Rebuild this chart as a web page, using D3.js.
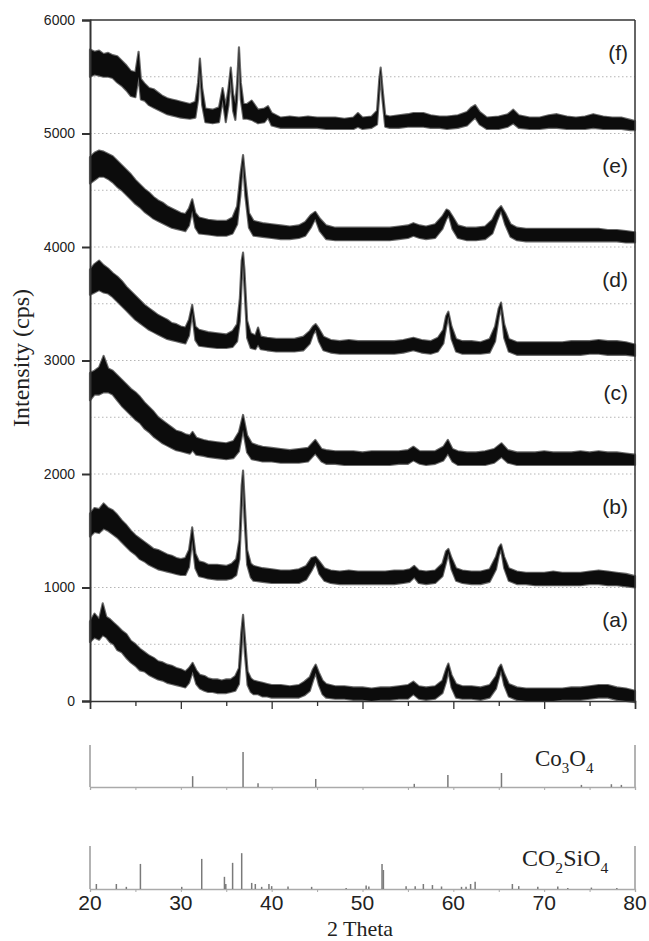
<!DOCTYPE html>
<html>
<head>
<meta charset="utf-8">
<script src="https://cdn.jsdelivr.net/npm/d3@7"></script>
<style>
  body { margin: 0; background: #fff; }
  svg text { fill: #222; }
</style>
</head>
<body>
<div id="chart"></div>
<script>
// ---------- data (2 theta, low edge, high edge of the noisy trace, cps) ----------
const patternA = [[20,520,700],[20.5,560,770],[21,540,720],[21.4,580,860],[21.8,560,740],[22.2,520,720],[22.6,500,690],[23,450,660],[23.5,430,620],[24,380,590],[24.5,340,530],[25,310,500],[25.5,270,460],[26,260,430],[26.5,230,400],[27,210,380],[27.5,190,350],[28,180,340],[28.5,160,320],[29,150,310],[29.5,140,290],[30,130,280],[30.5,120,260],[30.9,160,290],[31.3,260,335],[31.7,150,270],[32.1,110,230],[32.6,90,220],[33,80,200],[33.5,80,190],[34,70,190],[34.5,70,180],[35,70,190],[35.5,80,190],[36,90,220],[36.4,150,290],[36.65,420,600],[36.85,690,760],[37.05,420,560],[37.35,140,260],[37.7,80,200],[38,60,180],[38.5,60,170],[39,40,160],[39.5,40,150],[40,30,140],[41,30,140],[42,30,130],[43,30,140],[43.6,50,170],[44.2,90,210],[44.55,180,280],[44.85,250,320],[45.2,140,250],[45.6,60,180],[46,30,150],[47,20,130],[48,20,130],[49,10,120],[50,10,120],[51,0,110],[52,10,120],[53,10,120],[54,20,130],[55,20,140],[55.6,60,170],[56.2,20,130],[57,10,120],[58,20,130],[58.8,70,180],[59.2,170,280],[59.45,270,330],[59.8,120,230],[60.3,30,150],[61,20,130],[62,20,130],[63,10,120],[64,30,140],[64.7,110,220],[65,200,290],[65.25,270,320],[65.6,140,240],[66.1,40,150],[67,10,120],[68,0,110],[69,0,110],[70,0,110],[71,0,110],[72,10,110],[73,10,120],[74,10,120],[75,20,130],[76,30,140],[77,30,140],[78,10,120],[79,0,110],[80,-10,90]];

const patternB = [[20,1450,1650],[20.5,1490,1700],[21,1480,1690],[21.5,1520,1740],[22,1500,1700],[22.5,1470,1680],[23,1440,1640],[23.5,1400,1590],[24,1360,1550],[24.5,1320,1500],[25,1290,1460],[25.5,1250,1430],[26,1230,1400],[26.5,1200,1370],[27,1180,1340],[27.5,1160,1330],[28,1150,1310],[28.5,1140,1290],[29,1130,1280],[29.5,1120,1260],[30,1110,1250],[30.5,1110,1260],[30.9,1180,1330],[31.25,1420,1530],[31.6,1170,1300],[32,1100,1230],[32.5,1090,1220],[33,1080,1200],[34,1070,1200],[35,1070,1190],[35.6,1080,1210],[36.1,1110,1250],[36.45,1250,1420],[36.7,1700,1900],[36.85,1970,2030],[37,1620,1800],[37.3,1200,1330],[37.7,1090,1210],[38,1060,1190],[39,1050,1170],[40,1040,1160],[41,1040,1150],[42,1040,1150],[43,1040,1160],[43.8,1070,1190],[44.4,1150,1260],[44.85,1220,1270],[45.25,1120,1230],[45.8,1060,1170],[46.5,1040,1150],[47.5,1030,1140],[48.5,1030,1150],[49.5,1030,1140],[50.5,1030,1140],[51.5,1030,1140],[52.5,1030,1140],[53.5,1030,1150],[54.5,1040,1150],[55.2,1050,1160],[55.7,1090,1190],[56.2,1040,1150],[57,1030,1140],[58,1040,1150],[58.8,1100,1210],[59.2,1220,1320],[59.45,1300,1340],[59.8,1160,1260],[60.3,1060,1170],[61,1040,1150],[62,1030,1140],[63,1030,1140],[64,1050,1160],[64.7,1160,1270],[65,1280,1350],[65.25,1340,1380],[65.6,1170,1270],[66.1,1060,1170],[67,1030,1140],[68,1030,1130],[69,1020,1130],[70,1020,1130],[71,1020,1140],[72,1020,1130],[73,1020,1130],[74,1020,1130],[75,1030,1140],[76,1030,1150],[77,1020,1140],[78,1020,1130],[79,1010,1120],[80,1000,1100]];

const patternC = [[20,2650,2890],[20.5,2700,2910],[21,2700,2940],[21.5,2720,3040],[22,2720,2930],[22.5,2700,2910],[23,2650,2870],[23.5,2600,2830],[24,2560,2790],[24.5,2520,2750],[25,2480,2720],[25.5,2450,2680],[26,2400,2630],[26.5,2370,2590],[27,2330,2550],[27.5,2300,2500],[28,2270,2470],[28.5,2250,2440],[29,2230,2410],[29.5,2210,2380],[30,2200,2370],[30.5,2190,2350],[31,2180,2340],[31.3,2210,2370],[31.7,2170,2320],[32.5,2160,2300],[33,2150,2290],[34,2140,2280],[35,2130,2270],[35.8,2140,2290],[36.4,2200,2370],[36.85,2390,2520],[37.3,2190,2340],[37.8,2130,2270],[38.5,2120,2250],[39,2110,2240],[40,2110,2230],[41,2100,2220],[42,2100,2210],[43,2100,2220],[44,2110,2230],[44.8,2180,2300],[45.5,2110,2220],[46,2090,2210],[47,2090,2200],[48,2080,2200],[49,2080,2200],[50,2080,2190],[51,2080,2200],[52,2080,2200],[53,2080,2200],[54,2090,2200],[55,2090,2210],[55.6,2120,2240],[56.3,2090,2200],[57,2080,2200],[58,2090,2200],[58.9,2120,2240],[59.4,2180,2300],[59.9,2110,2220],[60.5,2080,2200],[61.5,2080,2190],[62.5,2080,2190],[63.5,2080,2200],[64.5,2100,2220],[65.3,2150,2270],[66,2100,2210],[67,2080,2190],[68,2080,2190],[69,2080,2190],[70,2080,2200],[71,2080,2190],[72,2080,2190],[73,2080,2190],[74,2080,2200],[75,2080,2190],[76,2080,2200],[77,2080,2190],[78,2080,2190],[79,2080,2180],[80,2080,2170]];

const patternD = [[20,3580,3800],[20.5,3600,3850],[21,3620,3880],[21.5,3600,3840],[22,3590,3810],[22.5,3560,3770],[23,3520,3740],[23.5,3480,3700],[24,3440,3650],[24.5,3400,3610],[25,3360,3570],[25.5,3330,3530],[26,3300,3490],[26.5,3270,3460],[27,3250,3430],[27.5,3230,3400],[28,3210,3380],[28.5,3190,3360],[29,3180,3330],[29.5,3170,3320],[30,3160,3300],[30.5,3150,3290],[30.9,3220,3360],[31.25,3420,3490],[31.6,3180,3300],[32,3130,3270],[33,3120,3250],[34,3110,3240],[35,3110,3230],[35.7,3120,3260],[36.2,3170,3320],[36.5,3350,3550],[36.7,3700,3880],[36.85,3890,3950],[37,3650,3800],[37.3,3200,3350],[37.7,3110,3240],[38.2,3100,3220],[38.5,3140,3290],[38.8,3100,3210],[39.5,3090,3200],[40.5,3080,3190],[41.5,3080,3190],[42.5,3080,3190],[43.5,3090,3210],[44.2,3150,3260],[44.55,3230,3300],[44.85,3270,3320],[45.2,3170,3280],[45.7,3090,3210],[46.5,3070,3180],[47.5,3060,3170],[48.5,3060,3180],[49.5,3060,3170],[50.5,3060,3170],[51.5,3060,3170],[52.5,3060,3170],[53.5,3060,3170],[54.5,3070,3180],[55.6,3090,3200],[56.5,3070,3180],[57.5,3060,3170],[58.3,3080,3200],[58.9,3150,3270],[59.2,3290,3390],[59.45,3390,3430],[59.8,3190,3300],[60.3,3080,3190],[61,3060,3170],[62,3060,3170],[63,3060,3160],[64,3070,3190],[64.6,3170,3300],[65,3380,3460],[65.25,3470,3510],[65.6,3200,3320],[66.1,3080,3190],[67,3050,3160],[68,3050,3160],[69,3050,3160],[70,3050,3160],[71,3050,3160],[72,3050,3160],[73,3050,3170],[74,3050,3170],[75,3060,3170],[76,3060,3180],[77,3050,3170],[78,3050,3170],[79,3050,3160],[80,3040,3140]];

const patternE = [[20,4560,4790],[20.5,4590,4830],[21,4620,4850],[21.5,4620,4840],[22,4600,4820],[22.5,4570,4800],[23,4530,4760],[23.5,4500,4720],[24,4460,4680],[24.5,4420,4640],[25,4380,4590],[25.5,4350,4550],[26,4310,4510],[26.5,4280,4480],[27,4250,4440],[27.5,4230,4410],[28,4210,4390],[28.5,4190,4360],[29,4170,4340],[29.5,4160,4320],[30,4150,4300],[30.5,4140,4290],[30.9,4190,4340],[31.25,4320,4420],[31.6,4170,4300],[32,4120,4260],[33,4110,4240],[34,4100,4230],[35,4100,4230],[35.7,4120,4260],[36.2,4200,4360],[36.55,4450,4630],[36.85,4750,4810],[37.1,4450,4600],[37.5,4170,4300],[38,4100,4230],[39,4090,4210],[40,4080,4200],[41,4070,4190],[42,4070,4180],[43,4080,4190],[43.7,4100,4220],[44.3,4170,4280],[44.8,4250,4310],[45.3,4140,4250],[46,4070,4190],[47,4060,4170],[48,4060,4170],[49,4060,4170],[50,4060,4170],[51,4060,4170],[52,4060,4170],[53,4060,4170],[54,4070,4180],[55,4080,4190],[55.6,4100,4210],[56.3,4080,4190],[57,4070,4180],[58,4080,4200],[58.8,4160,4270],[59.25,4250,4330],[59.5,4280,4320],[59.9,4160,4270],[60.5,4080,4190],[61.5,4060,4170],[62.5,4060,4170],[63.5,4070,4180],[64.3,4120,4240],[64.8,4230,4320],[65.25,4320,4360],[65.7,4200,4300],[66.3,4090,4200],[67,4060,4170],[68,4050,4160],[69,4050,4160],[70,4050,4160],[71,4050,4160],[72,4050,4160],[73,4050,4160],[74,4050,4160],[75,4050,4160],[76,4050,4160],[77,4050,4150],[78,4050,4150],[79,4040,4140],[80,4040,4130]];

const patternF = [[20,5500,5740],[20.5,5520,5720],[21,5510,5730],[21.5,5500,5700],[22,5500,5710],[22.5,5490,5690],[23,5450,5680],[23.5,5420,5640],[24,5380,5600],[24.5,5330,5550],[25,5320,5540],[25.35,5500,5720],[25.6,5300,5480],[26,5290,5440],[26.5,5250,5400],[27,5230,5390],[27.5,5210,5360],[28,5190,5330],[28.5,5170,5310],[29,5160,5300],[29.5,5150,5290],[30,5140,5280],[31,5130,5260],[31.6,5140,5280],[31.9,5300,5450],[32.1,5580,5660],[32.35,5250,5400],[32.7,5100,5220],[33.5,5090,5210],[34.2,5100,5230],[34.6,5300,5400],[34.95,5100,5240],[35.25,5250,5400],[35.5,5500,5580],[35.75,5200,5350],[36,5120,5260],[36.2,5300,5450],[36.4,5700,5760],[36.6,5300,5450],[36.9,5130,5260],[37.3,5130,5260],[37.8,5120,5290],[38.5,5090,5210],[39.2,5100,5220],[39.6,5140,5240],[40,5070,5180],[41,5050,5140],[42,5050,5150],[43,5050,5140],[44,5050,5150],[45,5050,5140],[46,5040,5140],[47,5040,5140],[48,5040,5130],[49,5040,5140],[49.5,5060,5180],[50,5040,5140],[51,5050,5150],[51.6,5080,5200],[51.85,5350,5480],[52,5540,5580],[52.2,5300,5400],[52.5,5060,5160],[53,5050,5150],[54,5050,5160],[55,5060,5170],[55.6,5060,5180],[56.7,5060,5180],[57.5,5050,5160],[58.5,5050,5150],[59.3,5040,5150],[60.5,5050,5160],[61.5,5070,5190],[62,5110,5230],[62.4,5140,5250],[62.9,5080,5190],[63.7,5040,5140],[65,5040,5150],[66,5060,5170],[66.6,5090,5210],[67.2,5050,5160],[68.4,5040,5140],[69.5,5040,5140],[70.5,5050,5160],[71.4,5050,5170],[72.5,5040,5150],[73.5,5040,5140],[74.5,5040,5150],[75.4,5050,5170],[76.5,5040,5150],[77.5,5040,5140],[78.5,5040,5140],[79.5,5030,5120],[80,5030,5110]];

const patterns = [patternA, patternB, patternC, patternD, patternE, patternF];
const patternLabels = ["(a)", "(b)", "(c)", "(d)", "(e)", "(f)"];
const patternOffsets = [0, 1000, 2000, 3000, 4000, 5000];

// reference lines (2 theta, relative intensity)
const co3o4Pos = [31.3, 36.85, 38.5, 44.85, 55.7, 59.4, 65.3, 74.1, 77.4, 78.5];
const co3o4Int = [31, 100, 11, 23, 9, 34, 40, 6, 8, 6];
const co2sio4Pos = [20.7, 22.9, 24.0, 25.55, 30.1, 32.3, 34.8, 34.95, 35.7, 36.7, 37.8, 38.2, 38.9, 39.7, 40.0, 41.8, 44.4, 48.2, 50.4, 50.7, 52.15, 52.3, 54.8, 55.8, 56.7, 57.7, 58.7, 60.9, 61.4, 61.9, 62.4, 66.5, 67.2, 69.3, 71.5, 72.6, 75.2, 78.0];
const co2sio4Int = [14, 14, 6, 70, 6, 84, 34, 14, 73, 100, 17, 14, 6, 14, 8, 7, 6, 3, 10, 7, 70, 53, 8, 8, 14, 11, 7, 6, 6, 14, 20, 14, 8, 6, 7, 3, 4, 3];

const yTicks = [0, 1000, 2000, 3000, 4000, 5000, 6000];
const gridValues = [500, 1000, 1500, 2000, 2500, 3000, 3500, 4000, 4500, 5000, 5500];
const xTicks = [20, 30, 40, 50, 60, 70, 80];
const xMinorTicks = [25, 35, 45, 55, 65, 75];

// ---------- layout ----------
const W = 649, H = 941;
const plotLeft = 90, plotRight = 635, plotTop = 20, plotBottom = 701;
const sans = "'Liberation Sans', Arial, sans-serif";
const serif = "'Liberation Serif', 'Times New Roman', serif";

const svg = d3.select("#chart").append("svg")
  .attr("width", W).attr("height", H);

const x = d3.scaleLinear().domain([20, 80]).range([plotLeft, plotRight]);
const y = d3.scaleLinear().domain([0, 6000]).range([plotBottom, plotTop]);

// grid (dotted)
svg.append("g").selectAll("line")
  .data(gridValues)
  .join("line")
  .attr("x1", plotLeft).attr("x2", plotRight)
  .attr("y1", d => y(d)).attr("y2", d => y(d))
  .attr("stroke", "#b5b5b5").attr("stroke-width", 1)
  .attr("stroke-dasharray", "1.5,2.5");

// traces: grey fringe underneath, black core on top
const band = d3.area()
  .x(d => x(d[0]))
  .y0(d => y(d[1]))
  .y1(d => y(d[2]));

const traces = svg.append("g");
traces.selectAll("path.fringe")
  .data(patterns)
  .join("path")
  .attr("class", "fringe")
  .attr("d", band)
  .attr("fill", "none")
  .attr("stroke", "#6a6a6a")
  .attr("stroke-width", 2.2)
  .attr("stroke-linejoin", "round");
traces.selectAll("path.core")
  .data(patterns)
  .join("path")
  .attr("class", "core")
  .attr("d", band)
  .attr("fill", "#0c0c0c");

// labels (a)-(f)
svg.append("g").selectAll("text")
  .data(patternLabels)
  .join("text")
  .attr("x", 628)
  .attr("y", (d, i) => y(patternOffsets[i] + 650))
  .attr("text-anchor", "end")
  .attr("font-family", sans)
  .attr("font-size", 21)
  .text(d => d);

// frame
const axisColor = "#333";
svg.append("line").attr("x1", plotLeft).attr("x2", plotRight).attr("y1", plotTop).attr("y2", plotTop)
  .attr("stroke", axisColor).attr("stroke-width", 1.5);
svg.append("line").attr("x1", plotRight).attr("x2", plotRight).attr("y1", plotTop).attr("y2", plotBottom)
  .attr("stroke", axisColor).attr("stroke-width", 1.5);

// y axis
const yAxis = svg.append("g")
  .attr("transform", `translate(${plotLeft},0)`)
  .call(d3.axisLeft(y).tickValues(yTicks).tickSize(8).tickPadding(7).tickFormat(d3.format("d")));
yAxis.select(".domain").attr("stroke", axisColor).attr("stroke-width", 2);
yAxis.selectAll(".tick line").attr("stroke", axisColor).attr("stroke-width", 2);
yAxis.selectAll(".tick text").attr("font-family", sans).attr("font-size", 14).attr("fill", "#333");

// main x axis (ticks only)
const xMain = svg.append("g")
  .attr("transform", `translate(0,${plotBottom})`)
  .call(d3.axisBottom(x).tickValues(xTicks).tickSize(8).tickFormat(""));
xMain.select(".domain").attr("stroke", axisColor).attr("stroke-width", 1.5);
xMain.selectAll(".tick line").attr("stroke", axisColor).attr("stroke-width", 1.3);
svg.append("g")
  .attr("transform", `translate(0,${plotBottom})`)
  .call(d3.axisBottom(x).tickValues(xMinorTicks).tickSize(5).tickFormat(""))
  .call(g => g.select(".domain").remove())
  .selectAll(".tick line").attr("stroke", axisColor).attr("stroke-width", 1.3);

// y label
svg.append("text")
  .attr("transform", "translate(29,358) rotate(-90)")
  .attr("text-anchor", "middle")
  .attr("font-family", serif)
  .attr("font-size", 24)
  .text("Intensity (cps)");

// ---------- reference panels ----------
function refPanel(pTop, pBase, pos, ints) {
  const yr = d3.scaleLinear().domain([0, 120]).range([pBase, pTop]);
  const g = svg.append("g");
  const c = "#8a8a8a";
  g.append("line").attr("x1", plotLeft).attr("x2", plotLeft).attr("y1", pTop).attr("y2", pBase)
    .attr("stroke", c).attr("stroke-width", 1.3);
  g.append("line").attr("x1", plotRight).attr("x2", plotRight).attr("y1", pTop).attr("y2", pBase)
    .attr("stroke", c).attr("stroke-width", 1.3);
  const ax = g.append("g")
    .attr("transform", `translate(0,${pBase})`)
    .call(d3.axisBottom(x).tickValues(xTicks.concat(xMinorTicks)).tickSize(3).tickFormat(""));
  ax.select(".domain").attr("stroke", "#aaa").attr("stroke-width", 1.3);
  ax.selectAll(".tick line").attr("stroke", "#aaa");
  g.selectAll("line.bar")
    .data(pos)
    .join("line")
    .attr("class", "bar")
    .attr("x1", d => x(d)).attr("x2", d => x(d))
    .attr("y1", yr(0)).attr("y2", (d, i) => yr(ints[i]))
    .attr("stroke", "#7a7a7a").attr("stroke-width", 1.5);
  return g;
}

refPanel(745, 787, co3o4Pos, co3o4Int);
refPanel(846, 889, co2sio4Pos, co2sio4Int);

function formula(xp, yp, size, parts) {
  const t = svg.append("text").attr("x", xp).attr("y", yp)
    .attr("font-family", serif).attr("font-size", size).attr("fill", "#111");
  parts.forEach(p => {
    if (p.sub) {
      t.append("tspan").attr("font-size", size * 0.65).attr("dy", 7).text(p.s);
    } else {
      t.append("tspan").attr("dy", p.back ? -7 : 0).text(p.s);
    }
  });
}
formula(535, 766, 23, [{s: "Co"}, {s: "3", sub: true}, {s: "O", back: true}, {s: "4", sub: true}]);
formula(522, 866, 24, [{s: "CO"}, {s: "2", sub: true}, {s: "SiO", back: true}, {s: "4", sub: true}]);

// bottom x axis labels
svg.append("g").selectAll("text")
  .data(xTicks)
  .join("text")
  .attr("x", d => x(d))
  .attr("y", 910)
  .attr("text-anchor", "middle")
  .attr("font-family", sans)
  .attr("font-size", 21)
  .attr("fill", "#111")
  .text(d => d);

svg.append("text")
  .attr("x", 360).attr("y", 936)
  .attr("text-anchor", "middle")
  .attr("font-family", serif)
  .attr("font-size", 22)
  .attr("fill", "#111")
  .text("2 Theta");
</script>
</body>
</html>
